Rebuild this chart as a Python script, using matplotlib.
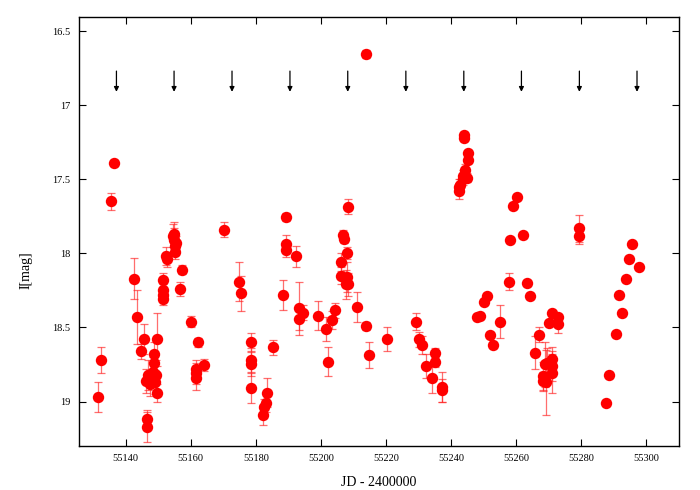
import matplotlib
matplotlib.use("Agg")
import matplotlib.pyplot as plt
from matplotlib.ticker import FuncFormatter, FixedLocator

jd = [55131.4, 55132.5, 55135.5, 55136.6, 55142.7, 55143.6, 55144.6, 55145.6, 55146.5, 55146.5,
      55146.3, 55147.0, 55147.6, 55148.3, 55148.7, 55148.7, 55149.0, 55149.5, 55149.6, 55149.8,
      55151.5, 55151.5, 55151.5, 55151.5, 55152.5, 55152.6, 55154.8, 55155.0, 55155.2, 55155.6,
      55155.3, 55154.5, 55157.2, 55156.7, 55160.1, 55162.2, 55161.6, 55161.6, 55161.6, 55164.1,
      55170.3, 55174.7, 55175.5, 55178.4, 55178.4, 55178.4, 55178.5, 55182.3, 55182.4, 55183.2,
      55183.5, 55185.3, 55188.4, 55189.4, 55189.4, 55189.4, 55192.4, 55193.3, 55193.2, 55194.5,
      55199.2, 55201.5, 55202.2, 55203.5, 55204.3, 55206.2, 55206.3, 55206.7, 55207.2, 55207.7,
      55208.0, 55208.1, 55208.2, 55208.3, 55211.2, 55214.0, 55214.0, 55214.9, 55220.4, 55229.2,
      55230.1, 55231.1, 55232.3, 55234.1, 55234.9, 55235.0, 55237.2, 55237.2, 55242.4, 55242.5,
      55242.8, 55243.5, 55243.8, 55244.3, 55244.8, 55245.1, 55245.1, 55244.0, 55244.1, 55247.9,
      55248.9, 55250.0, 55251.0, 55252.0, 55252.9, 55255.0, 55257.9, 55258.1, 55259.1, 55260.2,
      55262.2, 55263.2, 55264.2, 55265.9, 55266.9, 55268.1, 55268.2, 55268.8, 55269.1, 55269.5,
      55270.0, 55270.9, 55271.1, 55271.1, 55271.1, 55272.9, 55272.9, 55279.3, 55279.3, 55287.6,
      55288.6, 55290.6, 55291.5, 55292.5, 55293.6, 55294.6, 55295.6, 55297.6]

mag = [18.97, 18.72, 17.65, 17.39, 18.17, 18.43, 18.66, 18.58, 19.12, 19.17,
       18.86, 18.82, 18.88, 18.80, 18.68, 18.74, 18.87, 18.82, 18.58, 18.94,
       18.18, 18.25, 18.28, 18.31, 18.02, 18.04, 17.87, 17.91, 17.95, 17.93,
       17.99, 17.88, 18.11, 18.24, 18.46, 18.60, 18.78, 18.81, 18.84, 18.755,
       17.84, 18.19, 18.27, 18.60, 18.72, 18.745, 18.91, 19.09, 19.04, 19.01,
       18.94, 18.635, 18.28, 17.755, 17.935, 17.975, 18.02, 18.37, 18.44, 18.40,
       18.42, 18.51, 18.73, 18.45, 18.385, 18.06, 18.15, 17.875, 17.90, 18.21,
       18.16, 18.00, 17.685, 18.21, 18.36, 16.655, 18.49, 18.685, 18.58, 18.46,
       18.58, 18.62, 18.76, 18.84, 18.67, 18.735, 18.90, 18.925, 17.58, 17.55,
       17.54, 17.50, 17.48, 17.44, 17.49, 17.37, 17.32, 17.22, 17.20, 18.43,
       18.42, 18.325, 18.285, 18.55, 18.62, 18.46, 18.19, 17.91, 17.68, 17.62,
       17.875, 18.20, 18.29, 18.67, 18.55, 18.83, 18.86, 18.75, 18.87, 18.74,
       18.47, 18.40, 18.71, 18.76, 18.81, 18.43, 18.475, 17.83, 17.88, 19.01,
       18.82, 18.545, 18.28, 18.40, 18.17, 18.04, 17.94, 18.09]

err = [0.10, 0.09, 0.06, 0.02, 0.14, 0.18, 0.05, 0.10, 0.06, 0.10,
       0.08, 0.10, 0.08, 0.10, 0.08, 0.08, 0.08, 0.10, 0.18, 0.06,
       0.05, 0.04, 0.04, 0.04, 0.06, 0.05, 0.08, 0.08, 0.06, 0.05,
       0.05, 0.08, 0.03, 0.05, 0.04, 0.03, 0.06, 0.07, 0.08, 0.04,
       0.05, 0.13, 0.12, 0.06, 0.08, 0.08, 0.10, 0.07, 0.06, 0.06,
       0.10, 0.05, 0.10, 0.03, 0.06, 0.05, 0.07, 0.18, 0.08, 0.05,
       0.10, 0.08, 0.10, 0.06, 0.05, 0.06, 0.06, 0.03, 0.03, 0.10,
       0.10, 0.04, 0.05, 0.08, 0.10, 0.03, 0.03, 0.09, 0.08, 0.06,
       0.05, 0.06, 0.08, 0.10, 0.03, 0.03, 0.10, 0.08, 0.05, 0.05,
       0.04, 0.04, 0.04, 0.04, 0.03, 0.02, 0.02, 0.02, 0.02, 0.02,
       0.02, 0.02, 0.02, 0.02, 0.02, 0.11, 0.06, 0.02, 0.02, 0.02,
       0.02, 0.02, 0.02, 0.11, 0.05, 0.10, 0.06, 0.15, 0.22, 0.10,
       0.02, 0.02, 0.08, 0.10, 0.13, 0.02, 0.06, 0.09, 0.06, 0.02,
       0.02, 0.02, 0.02, 0.02, 0.02, 0.02, 0.02, 0.02]

arrow_jd = [55137.2, 55154.9, 55172.7, 55190.5, 55208.25, 55226.1, 55243.9, 55261.6, 55279.4, 55297.1]
arrow_top = 16.77
arrow_tip = 16.91

xticks = [55140, 55160, 55180, 55200, 55220, 55240, 55260, 55280, 55300]
yticks = [16.5, 17.0, 17.5, 18.0, 18.5, 19.0]

plt.rcParams['font.family'] = ['Liberation Serif', 'DejaVu Serif']

fig = plt.figure(figsize=(7, 4.9), dpi=100)
ax = fig.add_axes([79/700, 1-446/490, 600/700, 429/490])

ax.errorbar(jd, mag, yerr=err, fmt='none', ecolor='#ff2020', alpha=0.65,
            elinewidth=0.9, capsize=3, capthick=0.9, zorder=2)
ax.plot(jd, mag, 'o', color='#ff0000', markersize=8.2, markeredgewidth=0, zorder=3)

for a in arrow_jd:
    ax.annotate('', xy=(a, arrow_tip), xytext=(a, arrow_top),
                arrowprops=dict(arrowstyle='-|>', color='black', lw=0.9,
                                mutation_scale=7, shrinkA=0, shrinkB=0))

ax.set_xlim(55125.7, 55310.0)
ax.set_ylim(19.3, 16.405)
ax.xaxis.set_major_locator(FixedLocator(xticks))
ax.yaxis.set_major_locator(FixedLocator(yticks))
ax.yaxis.set_major_formatter(FuncFormatter(lambda v, p: '%g' % v))
ax.xaxis.set_major_formatter(FuncFormatter(lambda v, p: '%d' % v))
ax.tick_params(direction='in', top=True, right=True, length=5, width=0.8,
               labelsize=7.5, pad=6)
for s in ax.spines.values():
    s.set_linewidth(1.0)

ax.set_xlabel('JD - 2400000', fontsize=10)
ax.set_ylabel('I[mag]', fontsize=10)
ax.xaxis.set_label_coords(0.5, -0.07)
ax.yaxis.set_label_coords(-0.078, 0.41)

fig.savefig('out.png', dpi=100)
